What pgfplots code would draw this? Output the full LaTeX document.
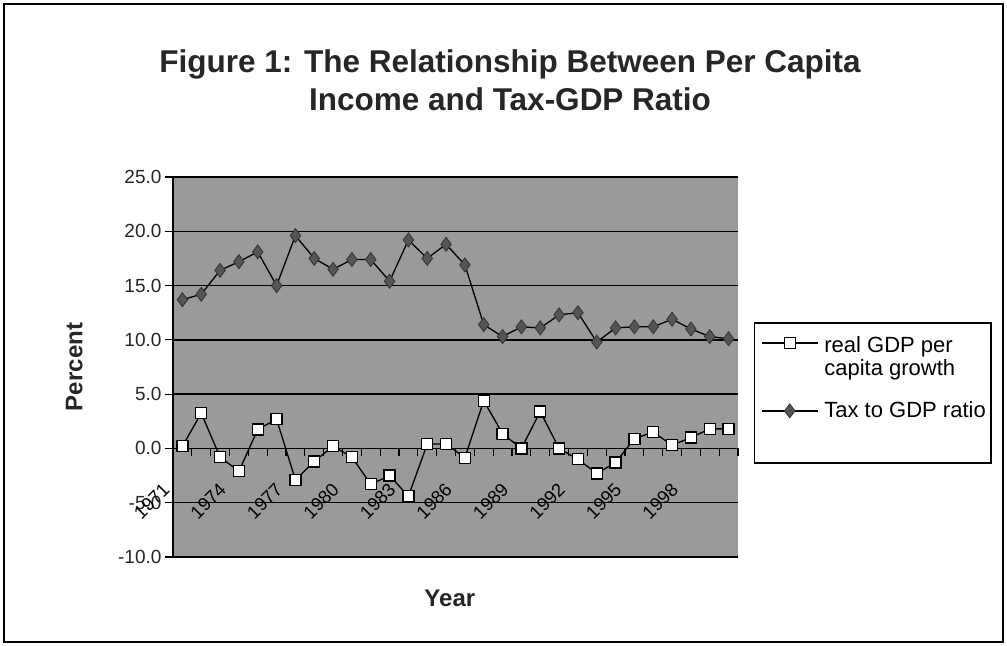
\documentclass[border=0pt]{standalone}
\usepackage{pgfplots}
\pgfplotsset{compat=1.18}
\usepackage{pgfplotstable}
\usepackage{fontspec}
\setmainfont{Liberation Sans}
\definecolor{plotbg}{RGB}{154,154,154}
\definecolor{diamondfill}{RGB}{85,85,85}
\pgfplotsset{
  legimgA/.style={legend image code/.code={\path[draw=none,fill=none] (0bp,-30bp) rectangle (0bp,30bp); \draw[mark repeat=2,mark phase=2,##1] plot coordinates {(4bp,10bp) (32bp,10bp) (60bp,10bp)};}},
  legimgB/.style={legend image code/.code={\path[draw=none,fill=none] (0bp,-45bp) rectangle (0bp,35bp); \draw[mark repeat=2,mark phase=2,##1] plot coordinates {(4bp,7bp) (32bp,7bp) (60bp,7bp)};}},
}
\pgfplotstableread{
x year gdp tax
0 1971 0.2 13.7
1 1972 3.25 14.2
2 1973 -0.8 16.4
3 1974 -2.1 17.2
4 1975 1.75 18.1
5 1976 2.7 15.0
6 1977 -2.9 19.6
7 1978 -1.2 17.5
8 1979 0.2 16.5
9 1980 -0.8 17.4
10 1981 -3.3 17.4
11 1982 -2.5 15.4
12 1983 -4.4 19.2
13 1984 0.4 17.5
14 1985 0.4 18.8
15 1986 -0.85 16.9
16 1987 4.4 11.4
17 1988 1.35 10.3
18 1989 0.0 11.2
19 1990 3.4 11.1
20 1991 0.0 12.3
21 1992 -1.0 12.5
22 1993 -2.3 9.8
23 1994 -1.3 11.1
24 1995 0.9 11.2
25 1996 1.5 11.2
26 1997 0.3 11.9
27 1998 1.0 11.0
28 1999 1.8 10.3
29 2000 1.8 10.1
}\datatable
\begin{document}
\begin{tikzpicture}[x=1bp,y=1bp]
\useasboundingbox (0bp,0bp) rectangle (1007bp,646bp);
\fill[white] (0bp,0bp) rectangle (1007bp,646bp);
\draw[line width=2.5bp] (4bp,4bp) rectangle (1003bp,642bp);
\node[font=\bfseries\fontsize{31.5bp}{38bp}\selectfont, align=center, text=black!85] at (510bp,566bp) {Figure 1: The Relationship Between Per Capita\\Income and Tax-GDP Ratio};
\begin{axis}[
  at={(173bp,89bp)}, anchor=south west,
  scale only axis, width=565bp, height=380bp,
  xmin=-0.5, xmax=29.5, ymin=-10, ymax=25,
  axis x line*=middle, axis y line*=left,
  axis line style={black, line width=1.5bp, -},
  hide obscured x ticks=false, hide obscured y ticks=false,
  axis background/.style={fill=plotbg},
  tick align=outside,
  major tick length=8bp,
  tick style={black, line width=1.2bp},
  xtick={-0.5,0.5,...,29.5},
  xticklabels={},
  extra x ticks={0,3,...,27},
  extra x tick labels={1971,1974,1977,1980,1983,1986,1989,1992,1995,1998},
  extra x tick style={major tick length=0bp,
    xticklabel style={font=\fontsize{18.5bp}{20bp}\selectfont, xshift=-16bp, yshift=-38bp, rotate=45, anchor=east, inner sep=0pt}},
  ytick={-10,-5,...,25},
  yticklabel style={font=\fontsize{19bp}{22bp}\selectfont, /pgf/number format/fixed, /pgf/number format/fixed zerofill, /pgf/number format/precision=1, /pgf/number format/assume math mode=true, text=black!85},
  ymajorgrids,
  major grid style={black, line width=1.5bp},
  ylabel={Percent},
  ylabel style={font=\bfseries\fontsize{24bp}{28bp}\selectfont, at={(axis description cs:-0.175,0.5)}, anchor=center, text=black!85},
  xlabel={Year},
  xlabel style={font=\bfseries\fontsize{24bp}{28bp}\selectfont, at={(axis description cs:0.49,-0.108)}, anchor=center, text=black!85},
  legend style={at={(axis description cs:1.0283,0.618)}, anchor=north west, draw=black, line width=1.5bp, fill=white,
    font=\fontsize{22bp}{23bp}\selectfont, inner xsep=3bp, inner ysep=0bp, row sep=0bp, column sep=4bp,
    cells={anchor=base west, inner sep=0pt}},
]
\addplot[black, line width=1.3bp, mark=square*, mark size=5.5bp, mark options={fill=white, draw=black, line width=1.3bp, solid}, legimgA] table[x=x, y=gdp] {\datatable};
\addlegendentry{\begin{tabular}[t]{@{}l@{}}real GDP per\\capita growth\end{tabular}}
\addplot[black, line width=1.3bp, mark=diamond*, mark size=7bp, mark options={fill=diamondfill, draw=black!80, line width=0.8bp, solid}, legimgB] table[x=x, y=tax] {\datatable};
\addlegendentry{Tax to GDP ratio}
\end{axis}
\end{tikzpicture}
\end{document}
